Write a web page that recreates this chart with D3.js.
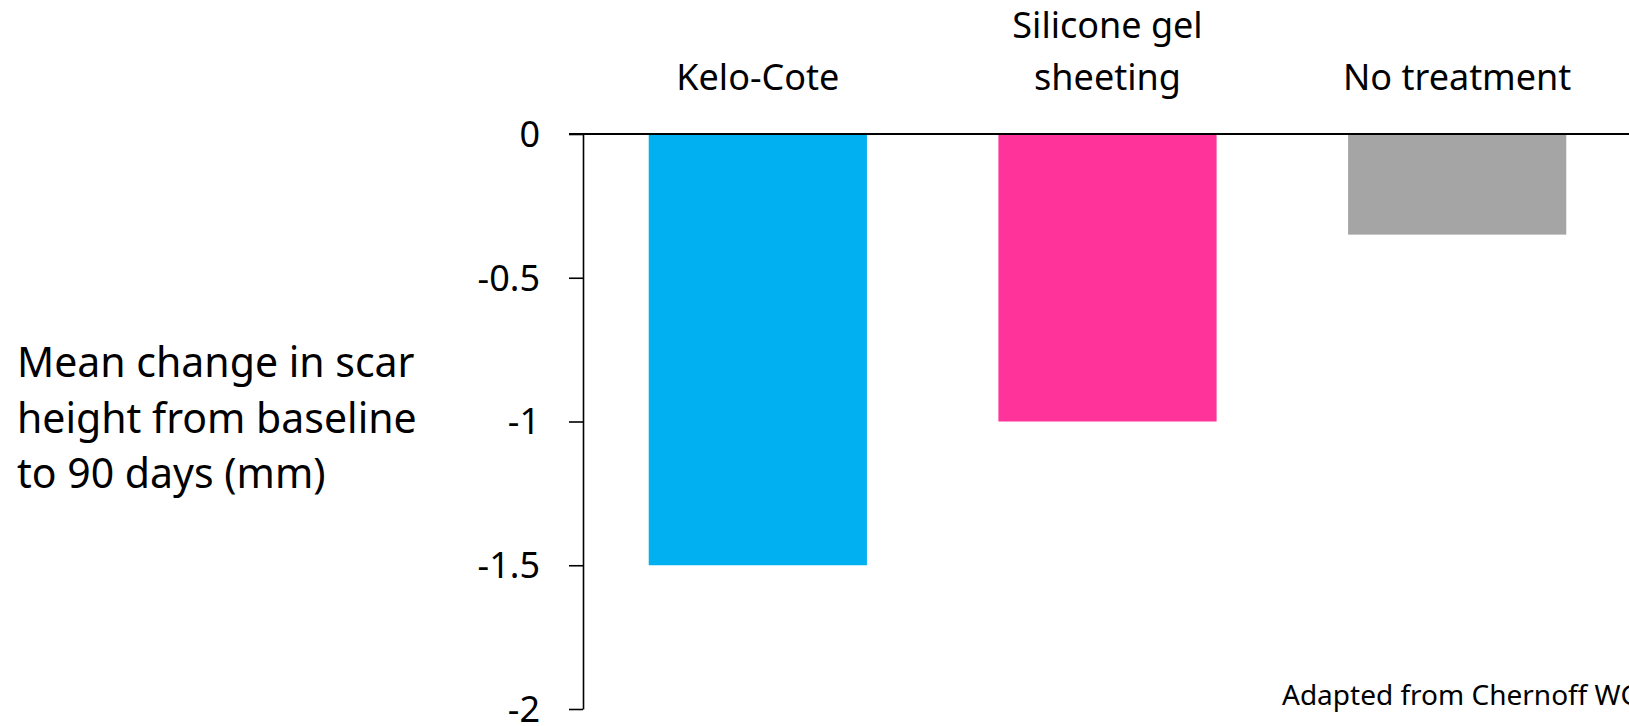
<!DOCTYPE html>
<html>
<head>
<meta charset="utf-8">
<script src="https://cdn.jsdelivr.net/npm/d3@7"></script>
<style>
  html, body { margin: 0; padding: 0; background: #fff; }
  svg { display: block; }
  text { font-family: "Noto Sans", "Open Sans", sans-serif; fill: #000; }
</style>
</head>
<body>
<svg id="chart" width="1629" height="726"></svg>
<script>
const categories = ["Kelo-Cote", "Silicone gel sheeting", "No treatment"];
const categoryLines = [["Kelo-Cote"], ["Silicone gel", "sheeting"], ["No treatment"]];
const values = [-1.5, -1.0, -0.35];
const colors = ["#00B0F0", "#FF3399", "#A5A5A5"];
const tickValues = [0, -0.5, -1, -1.5, -2];
const yTitleLines = ["Mean change in scar", "height from baseline", "to 90 days (mm)"];
const footnote = "Adapted from Chernoff WG";

const svg = d3.select("#chart");
const W = 1629, H = 726;

const y = d3.scaleLinear().domain([-2, 0]).range([709, 134]);
const x = d3.scaleBand().domain(categories).range([583, 1632]).paddingInner(0.376).paddingOuter(0.188);

// Bars
svg.append("g").selectAll("rect")
  .data(values)
  .join("rect")
  .attr("x", (d, i) => x(categories[i]))
  .attr("width", x.bandwidth())
  .attr("y", y(0))
  .attr("height", d => y(d) - y(0))
  .attr("fill", (d, i) => colors[i]);

// Y axis
const yAxis = d3.axisLeft(y)
  .tickValues(tickValues)
  .tickFormat(d => String(d))
  .tickSize(14)
  .tickSizeOuter(0)
  .tickPadding(29);

const gy = svg.append("g").attr("transform", "translate(583,0)").call(yAxis);
gy.select(".domain").attr("stroke", "#000").attr("stroke-width", 1.6);
gy.selectAll(".tick line").attr("stroke", "#000").attr("stroke-width", 1.6);
gy.selectAll(".tick text")
  .attr("font-size", 36)
  .attr("font-family", "'Noto Sans', sans-serif")
  .attr("fill", "#000")
  .attr("dy", "0.34em");

// Zero line
svg.append("line")
  .attr("x1", 569).attr("x2", W)
  .attr("y1", y(0)).attr("y2", y(0))
  .attr("stroke", "#000").attr("stroke-width", 2.2);

// Category labels on top
const catG = svg.append("g");
categoryLines.forEach((lines, i) => {
  const cx = x(categories[i]) + x.bandwidth() / 2;
  const n = lines.length;
  lines.forEach((ln, j) => {
    catG.append("text")
      .attr("x", cx)
      .attr("y", 90 - (n - 1 - j) * 52.5)
      .attr("text-anchor", "middle")
      .attr("font-size", 36)
      .text(ln);
  });
});

// Y title
const tG = svg.append("g");
yTitleLines.forEach((ln, j) => {
  tG.append("text")
    .attr("x", 17)
    .attr("y", 377 + j * 55.5)
    .attr("font-size", 41)
    .text(ln);
});

// Footnote
svg.append("text")
  .attr("x", 1282)
  .attr("y", 705)
  .attr("font-size", 28)
  .text(footnote);
</script>
</body>
</html>
